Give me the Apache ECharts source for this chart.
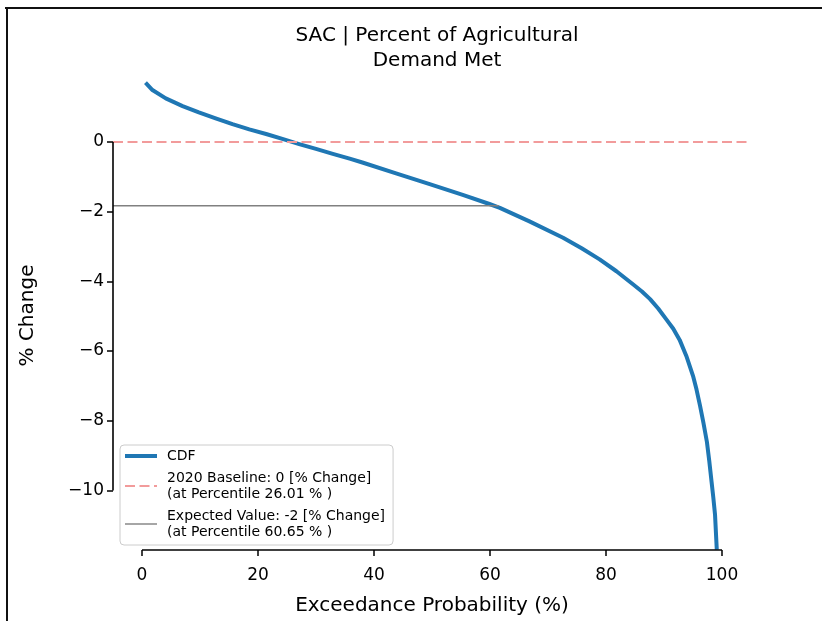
<!DOCTYPE html>
<html>
<head>
<meta charset="utf-8">
<script src="https://cdn.jsdelivr.net/npm/echarts@6/dist/echarts.min.js"></script>
<style>
html,body{margin:0;padding:0;background:#fff;}
#chart{width:822px;height:621px;}
</style>
</head>
<body>
<div id="chart"></div>
<script>
// ---- Data ----
const probability = [0.6, 1.8, 4.1, 7.0, 9.8, 12.7, 15.6, 18.5, 21.4, 24.2, 27.1, 30.0, 32.9, 35.8, 38.0, 43.8, 49.6, 55.3, 59.9, 61.7, 66.8, 72.6, 75.8, 78.9, 81.8, 84.7, 86.2, 87.6, 89.0, 90.4, 91.6, 92.7, 93.85, 95.0, 95.6, 96.2, 96.8, 97.4, 97.8, 98.2, 98.5, 98.8, 99.1];
const change = [1.70, 1.49, 1.25, 1.03, 0.85, 0.68, 0.51, 0.36, 0.23, 0.09, -0.06, -0.20, -0.34, -0.48, -0.59, -0.90, -1.21, -1.52, -1.78, -1.89, -2.28, -2.75, -3.05, -3.37, -3.71, -4.09, -4.29, -4.51, -4.78, -5.09, -5.36, -5.68, -6.14, -6.71, -7.10, -7.56, -8.06, -8.61, -9.15, -9.75, -10.2, -10.7, -11.7];
const xTicks = [0, 20, 40, 60, 80, 100];
const yTicks = [-10, -8, -6, -4, -2, 0];
const xLimits = [-5, 105];
const yLimits = [-11.71, 1.75];
const baselineValue = [0];
const baselinePercentile = [26.01];
const expectedValue = [-1.83];
const expectedLabelValue = [-2];
const expectedPercentile = [60.65];
const expectedLineEnd = [61.5];

const FONT = 'DejaVu Sans';
const minus = v => (v < 0 ? '\u2212' + Math.abs(v) : String(v));

const cdfData = probability.map((p, i) => [p, change[i]]);
const baselineName = '2020 Baseline: ' + baselineValue[0] + ' [% Change]\n(at Percentile ' + baselinePercentile[0].toFixed(2) + ' % )';
const expectedName = 'Expected Value: ' + expectedLabelValue[0] + ' [% Change]\n(at Percentile ' + expectedPercentile[0].toFixed(2) + ' % )';

const chart = echarts.init(document.getElementById('chart'), null, {renderer: 'canvas'});
chart.setOption({
  animation: false,
  backgroundColor: '#ffffff',
  textStyle: {fontFamily: FONT},
  graphic: [
    {type: 'line', shape: {x1: 5, y1: 8, x2: 822, y2: 8}, style: {stroke: '#111', lineWidth: 2}},
    {type: 'line', shape: {x1: 7, y1: 7, x2: 7, y2: 621}, style: {stroke: '#111', lineWidth: 2}}
  ],
  title: {
    text: 'SAC | Percent of Agricultural\nDemand Met',
    left: 432,
    top: 18,
    textAlign: 'center',
    textStyle: {fontFamily: FONT, fontSize: 20, fontWeight: 'normal', color: '#000', lineHeight: 25}
  },
  grid: {left: 113, right: 71, top: 81, bottom: 69, containLabel: false},
  legend: {
    orient: 'vertical',
    left: 120,
    top: 445,
    padding: [3, 8, 5, 3],
    itemGap: 6,
    itemWidth: 32,
    itemHeight: 14,
    backgroundColor: 'rgba(255,255,255,0.85)',
    borderColor: '#cccccc',
    borderWidth: 1,
    borderRadius: 4,
    itemStyle: {opacity: 0},
    data: [
      {name: 'CDF', lineStyle: {width: 4}},
      {name: baselineName, lineStyle: {width: 2.2}},
      {name: expectedName, lineStyle: {width: 1.4}}
    ],
    textStyle: {fontFamily: FONT, fontSize: 14, color: '#000', lineHeight: 16, padding: [0, 0, 0, 5]}
  },
  xAxis: {
    type: 'value',
    min: xLimits[0],
    max: xLimits[1],
    name: 'Exceedance Probability (%)',
    nameLocation: 'middle',
    nameGap: 46,
    nameTextStyle: {fontFamily: FONT, fontSize: 20, color: '#000'},
    axisLine: {show: false, onZero: false},
    splitLine: {show: false},
    axisTick: {show: true, customValues: xTicks, length: 6, lineStyle: {color: '#000', width: 1.5}},
    axisLabel: {customValues: xTicks, margin: 17, fontFamily: FONT, fontSize: 17, color: '#000', formatter: minus}
  },
  yAxis: {
    type: 'value',
    min: yLimits[0],
    max: yLimits[1],
    name: '% Change',
    nameLocation: 'middle',
    nameGap: 75,
    nameTextStyle: {fontFamily: FONT, fontSize: 20, color: '#000'},
    axisLine: {show: false, onZero: false},
    splitLine: {show: false},
    axisTick: {show: true, customValues: yTicks, length: 6, lineStyle: {color: '#000', width: 1.5}},
    axisLabel: {customValues: yTicks, margin: 9, fontFamily: FONT, fontSize: 17, color: '#000', formatter: minus}
  },
  series: [
    {
      name: 'CDF',
      type: 'line',
      data: cdfData,
      showSymbol: false,
      symbol: 'none',
      smooth: false,
      lineStyle: {color: '#1f77b4', width: 4, join: 'round', cap: 'butt'},
      itemStyle: {color: '#1f77b4'},
      z: 2
    },
    {
      name: baselineName,
      type: 'line',
      data: [[xLimits[0], baselineValue[0]], [xLimits[1], baselineValue[0]]],
      symbol: 'none',
      lineStyle: {color: '#f29b9b', width: 2.2, type: [10, 4.5]},
      itemStyle: {color: '#f29b9b'},
      z: 3
    },
    {
      name: expectedName,
      type: 'line',
      data: [[xLimits[0], expectedValue[0]], [expectedLineEnd[0], expectedValue[0]]],
      symbol: 'none',
      lineStyle: {color: '#808080', width: 1.4},
      itemStyle: {color: '#808080'},
      z: 3
    },
    {
      name: 'spine-bottom',
      type: 'line',
      data: [[xTicks[0], yLimits[0]], [xTicks[xTicks.length - 1], yLimits[0]]],
      symbol: 'none',
      clip: false,
      silent: true,
      lineStyle: {color: '#000', width: 1.6},
      z: 4
    },
    {
      name: 'spine-left',
      type: 'line',
      data: [[xLimits[0], yTicks[0]], [xLimits[0], yTicks[yTicks.length - 1]]],
      symbol: 'none',
      clip: false,
      silent: true,
      lineStyle: {color: '#000', width: 1.6},
      z: 4
    }
  ]
});
</script>
</body>
</html>
